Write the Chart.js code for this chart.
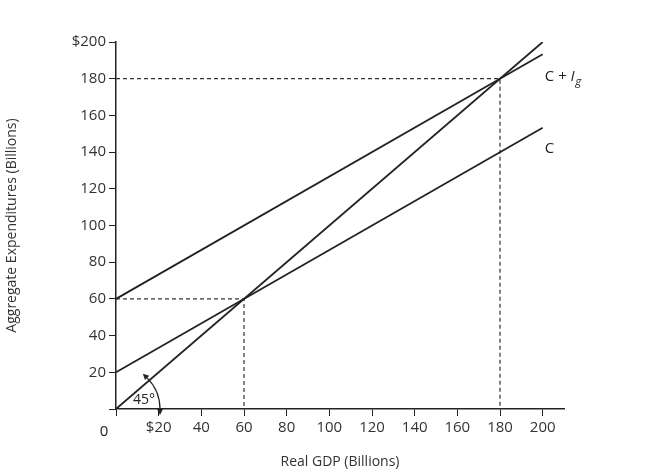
<!DOCTYPE html>
<html>
<head>
<meta charset="utf-8">
<script src="https://cdn.jsdelivr.net/npm/chart.js@4"></script>
<style>
  body { margin: 0; background: #fff; }
  #wrap { width: 653px; height: 474px; }
</style>
</head>
<body>
<div id="wrap"><canvas id="chart"></canvas></div>
<script>
// Data (billions of dollars)
const gdpEnds = [0, 200];
const line45 = [0, 200];
const consumption = [20, 153.3];
const aggregate = [60, 193.3];
const equilibrium = [60, 180];
const xTicks = [0, 20, 40, 60, 80, 100, 120, 140, 160, 180, 200];
const yTicks = [0, 20, 40, 60, 80, 100, 120, 140, 160, 180, 200];

const ink = '#222';

function pts(ys) {
    return gdpEnds.map((x, i) => ({ x: x, y: ys[i] }));
}

function dashed(v) {
    return {
        data: [{ x: 0, y: v }, { x: v, y: v }, { x: v, y: 0 }],
        borderColor: '#333',
        borderWidth: 1.2,
        borderDash: [4, 3],
        pointRadius: 0
    };
}

// Line labels, "0" origin label and the 45 degree arc
const extras = {
    id: 'extras',
    afterDatasetsDraw(chart) {
        const { ctx, scales: { x, y } } = chart;
        ctx.save();
        ctx.fillStyle = ink;
        ctx.font = '15px "Open Sans", Arial, sans-serif';
        ctx.textBaseline = 'middle';
        ctx.fillText('C + ', x.getPixelForValue(201), y.getPixelForValue(181));
        const w = ctx.measureText('C + ').width;
        ctx.font = 'italic 15px "Open Sans", Arial, sans-serif';
        ctx.fillText('I', x.getPixelForValue(201) + w, y.getPixelForValue(181));
        ctx.font = 'italic 11px "Open Sans", Arial, sans-serif';
        ctx.fillText('g', x.getPixelForValue(201) + w + 5, y.getPixelForValue(178.5));
        ctx.font = '15px "Open Sans", Arial, sans-serif';
        ctx.fillText('C', x.getPixelForValue(201), y.getPixelForValue(142));
        ctx.textAlign = 'center';
        ctx.fillText('0', x.getPixelForValue(0) - 12, y.getPixelForValue(0) + 23);
        ctx.font = '14px "Open Sans", Arial, sans-serif';
        ctx.fillText('45°', x.getPixelForValue(0) + 28, y.getPixelForValue(0) - 9);

        // arc with arrowheads
        const ox = x.getPixelForValue(0), oy = y.getPixelForValue(0);
        const r = 44;
        ctx.strokeStyle = ink;
        ctx.lineWidth = 1.2;
        ctx.beginPath();
        ctx.arc(ox, oy, r, -Math.PI / 4, 0);
        ctx.stroke();
        function head(a, dir) {
            const px = ox + r * Math.cos(a), py = oy + r * Math.sin(a);
            const tx = -Math.sin(a) * dir, ty = Math.cos(a) * dir;
            ctx.beginPath();
            ctx.moveTo(px + tx * 6, py + ty * 6);
            ctx.lineTo(px - ty * 3, py + tx * 3);
            ctx.lineTo(px + ty * 3, py - tx * 3);
            ctx.closePath();
            ctx.fill();
        }
        head(-Math.PI / 4, -1);
        head(0, 1);
        ctx.restore();
    }
};

new Chart(document.getElementById('chart'), {
    type: 'line',
    data: {
        datasets: [
            { data: pts(line45), borderColor: ink, borderWidth: 1.8, pointRadius: 0 },
            { data: pts(consumption), borderColor: ink, borderWidth: 1.8, pointRadius: 0 },
            { data: pts(aggregate), borderColor: ink, borderWidth: 1.8, pointRadius: 0 },
            dashed(equilibrium[0]),
            dashed(equilibrium[1])
        ]
    },
    options: {
        responsive: true,
        maintainAspectRatio: false,
        animation: false,
        layout: { padding: { top: 42, right: 89, left: 0, bottom: 0 } },
        plugins: { legend: { display: false }, tooltip: { enabled: false } },
        scales: {
            x: {
                type: 'linear', min: 0, max: 210,
                afterBuildTicks: s => { s.ticks = xTicks.map(v => ({ value: v })); },
                afterFit: s => { s.height = 65; },
                border: { color: ink, width: 1.5 },
                grid: { drawOnChartArea: false, color: ink, tickLength: 7 },
                ticks: {
                    color: '#333', font: { size: 15, family: '"Open Sans", Arial, sans-serif' },
                    maxRotation: 0,
                    callback: v => v === 0 ? '' : (v === 20 ? '$20' : v)
                },
                title: { display: true, text: 'Real GDP (Billions)', color: '#333',
                         font: { size: 14, family: '"Open Sans", Arial, sans-serif' } }
            },
            y: {
                type: 'linear', min: 0, max: 200,
                afterBuildTicks: s => { s.ticks = yTicks.map(v => ({ value: v })); },
                afterFit: s => { s.width = 116; },
                border: { color: ink, width: 1.5 },
                grid: { drawOnChartArea: false, color: ink, tickLength: 7 },
                ticks: {
                    color: '#333', font: { size: 15, family: '"Open Sans", Arial, sans-serif' },
                    callback: v => v === 0 ? '' : (v === 200 ? '$200' : v)
                },
                title: { display: true, text: 'Aggregate Expenditures (Billions)', color: '#333',
                         font: { size: 14, family: '"Open Sans", Arial, sans-serif' } }
            }
        }
    },
    plugins: [extras]
});
</script>
</body>
</html>
